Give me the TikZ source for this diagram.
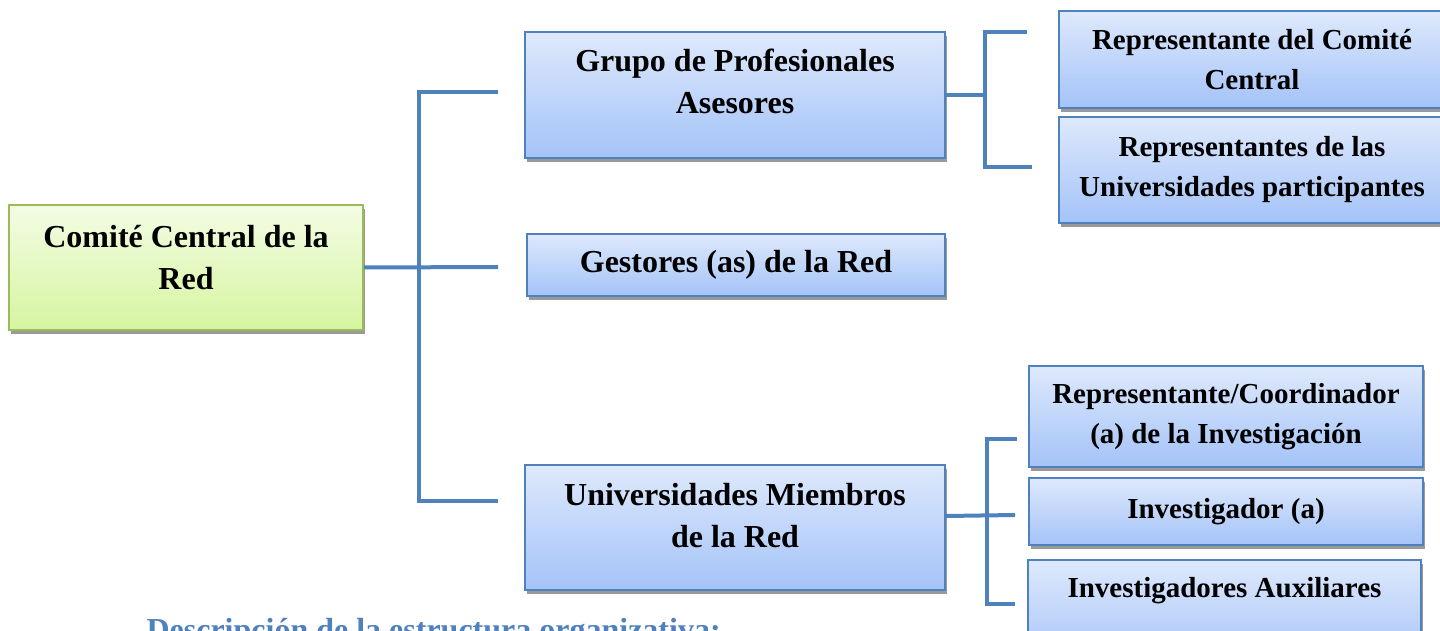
\documentclass[tikz,border=0pt]{standalone}
\usepackage{fontspec}
\setmainfont{Liberation Serif}
\usepackage{tikz}
\usetikzlibrary{shadows, calc}
\definecolor{linkblue}{RGB}{79,129,189}
\definecolor{bluetop}{RGB}{222,233,252}
\definecolor{bluebot}{RGB}{164,195,248}
\definecolor{greentop}{RGB}{243,252,228}
\definecolor{greenbot}{RGB}{214,245,160}
\definecolor{greenline}{RGB}{155,187,89}
\newcommand{\liftby}[1]{\rule[-#1]{0pt}{0pt}}
\tikzset{
  box/.style={rectangle, draw=linkblue, line width=2pt, top color=bluetop, bottom color=bluebot,
    align=center, anchor=north west, inner sep=0pt, font=\fontsize{29}{40}\selectfont\bfseries,
    drop shadow={shadow xshift=2pt, shadow yshift=-4pt, fill=black!40, opacity=1}},
  bigbox/.style={box, font=\fontsize{32}{42}\selectfont\bfseries},
  rootbox/.style={bigbox, draw=greenline, top color=greentop, bottom color=greenbot},
  link/.style={draw=linkblue, line width=4pt}
}

\begin{document}
\begin{tikzpicture}[x=1pt, y=-1pt]
    \useasboundingbox (0,0) rectangle (1440,631);
    \clip (0,0) rectangle (1440,631);

    % boxes
    \node[rootbox, minimum width=354pt, minimum height=125pt] (comite) at (8,204) {Comité Central de la\\Red\liftby{20pt}};

    \node[bigbox, minimum width=420pt, minimum height=126pt] (grupo) at (524,31) {Grupo de Profesionales\\Asesores\liftby{28pt}};
    \node[bigbox, minimum width=418pt, minimum height=62pt] (gestores) at (526,233) {Gestores (as) de la Red};
    \node[bigbox, minimum width=420pt, minimum height=125pt] (univ) at (524,464) {Universidades Miembros\\de la Red\liftby{24pt}};

    \node[box, minimum width=386pt, minimum height=97pt] (repcc) at (1058,10) {Representante del Comité\\Central};
    \node[box, minimum width=386pt, minimum height=106pt] (repuniv) at (1058,116) {Representantes de las\\Universidades participantes};

    \node[box, minimum width=394pt, minimum height=101pt] (repcoord) at (1028,365) {Representante/Coordinador\\(a) de la Investigación};
    \node[box, minimum width=394pt, minimum height=67pt] (invest) at (1028,477) {Investigador (a)};
    \node[box, minimum width=393pt, minimum height=106pt] (aux) at (1027,559) {Investigadores Auxiliares\\\strut};

    \node[anchor=base west, text=linkblue, font=\fontsize{32}{38}\selectfont\bfseries] (desc) at (143,640) {Descripción de la estructura organizativa:};

    % connectors
    \coordinate (j1b) at (419,501);
    \coordinate (e1) at (498,92);
    \coordinate (e2) at (498,267);
    \coordinate (e3) at (498,501);
    \draw[link] (comite.east) -- (e2);
    \draw[link] (e1) -| (j1b) -- (e3);

    \coordinate (k1) at (985,167);
    \coordinate (f1) at (1027,32);
    \coordinate (f2) at (1032,167);
    \draw[link] (grupo.east) -- (grupo.east -| k1);
    \draw[link] (f1) -| (k1) -- (f2);

    \coordinate (k2) at (987,604);
    \coordinate (g1) at (1017,439);
    \coordinate (g2) at (1015,515);
    \coordinate (g3) at (1015,604);
    \draw[link] ([yshift=11.5pt]univ.east) -- (g2);
    \draw[link] (g1) -| (k2) -- (g3);
\end{tikzpicture}
\end{document}
